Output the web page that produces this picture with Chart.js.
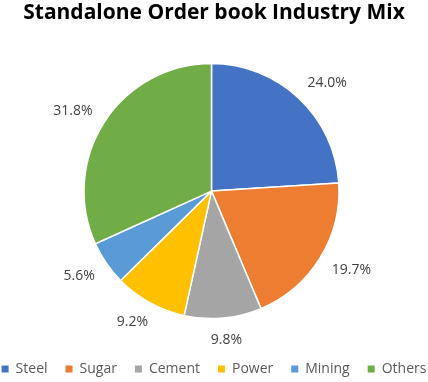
<!DOCTYPE html>
<html>
<head>
<meta charset="utf-8">
<script src="https://cdn.jsdelivr.net/npm/chart.js@4/dist/chart.umd.min.js"></script>
<style>
  html, body { margin: 0; padding: 0; background: #ffffff; }
  #wrap { width: 428px; height: 382px; position: relative; }
</style>
</head>
<body>
<div id="wrap"><canvas id="c" width="428" height="382"></canvas></div>
<script>
// ---- data ----
const categories = ['Steel', 'Sugar', 'Cement', 'Power', 'Mining', 'Others'];
const shares = [24.0, 19.7, 9.8, 9.2, 5.6, 31.8];
const sliceColors = ['#4472C4', '#ED7D31', '#A5A5A5', '#FFC000', '#5B9BD5', '#70AD47'];
const chartTitle = 'Standalone Order book Industry Mix';

const FONT = "'Open Sans', 'Noto Sans', sans-serif";

// nudge the plot area slightly left so the pie sits where it does in the reference
const shiftArea = {
  id: 'shiftArea',
  afterLayout(chart) {
    chart.chartArea.left -= 2.5;
    chart.chartArea.right -= 2.5;
  }
};

const outsideLabels = {
  id: 'outsideLabels',
  afterDatasetsDraw(chart) {
    const ctx = chart.ctx;
    const meta = chart.getDatasetMeta(0);
    const ds = chart.data.datasets[0];
    ctx.save();
    ctx.font = '14px ' + FONT;
    ctx.fillStyle = '#404040';
    ctx.textAlign = 'center';
    ctx.textBaseline = 'middle';
    const gap = 14, h = 14;
    meta.data.forEach((arc, i) => {
      const p = arc.getProps(['x', 'y', 'startAngle', 'endAngle', 'outerRadius'], true);
      const mid = (p.startAngle + p.endAngle) / 2;
      const dx = Math.cos(mid), dy = Math.sin(mid);
      const txt = ds.data[i].toFixed(1) + '%';
      const w = ctx.measureText(txt).width;
      const r = p.outerRadius + gap;
      const fx = Math.sign(dx) * Math.min(1, Math.abs(dx) * 1.4);
      const x = p.x + dx * r + fx * w / 2;
      const y = p.y + dy * r + dy * h / 2 + (dy > 0 ? 1 : 0);
      ctx.fillText(txt, x, y);
    });
    ctx.restore();
  }
};

new Chart(document.getElementById('c'), {
  type: 'pie',
  data: {
    labels: categories,
    datasets: [{
      data: shares,
      backgroundColor: sliceColors,
      borderColor: '#ffffff',
      borderWidth: 1.5
    }]
  },
  options: {
    responsive: false,
    animation: false,
    devicePixelRatio: 1,
    radius: 127.5,
    layout: { padding: { top: 0, left: -20, right: -20, bottom: -4 } },
    plugins: {
      title: {
        display: true,
        text: chartTitle,
        color: '#000000',
        font: { family: FONT, size: 21, weight: 'bold' },
        padding: { top: 0, bottom: 13 }
      },
      legend: {
        display: true,
        position: 'bottom',
        labels: {
          color: '#595959',
          font: { family: FONT, size: 14 },
          boxWidth: 7,
          boxHeight: 7,
          padding: 18,
          generateLabels(chart) {
            const items = Chart.controllers.pie.overrides.plugins.legend.labels.generateLabels(chart);
            items.forEach(it => { it.lineWidth = 0; it.strokeStyle = 'rgba(0,0,0,0)'; });
            return items;
          }
        }
      },
      tooltip: { enabled: false }
    }
  },
  plugins: [shiftArea, outsideLabels]
});
</script>
</body>
</html>
